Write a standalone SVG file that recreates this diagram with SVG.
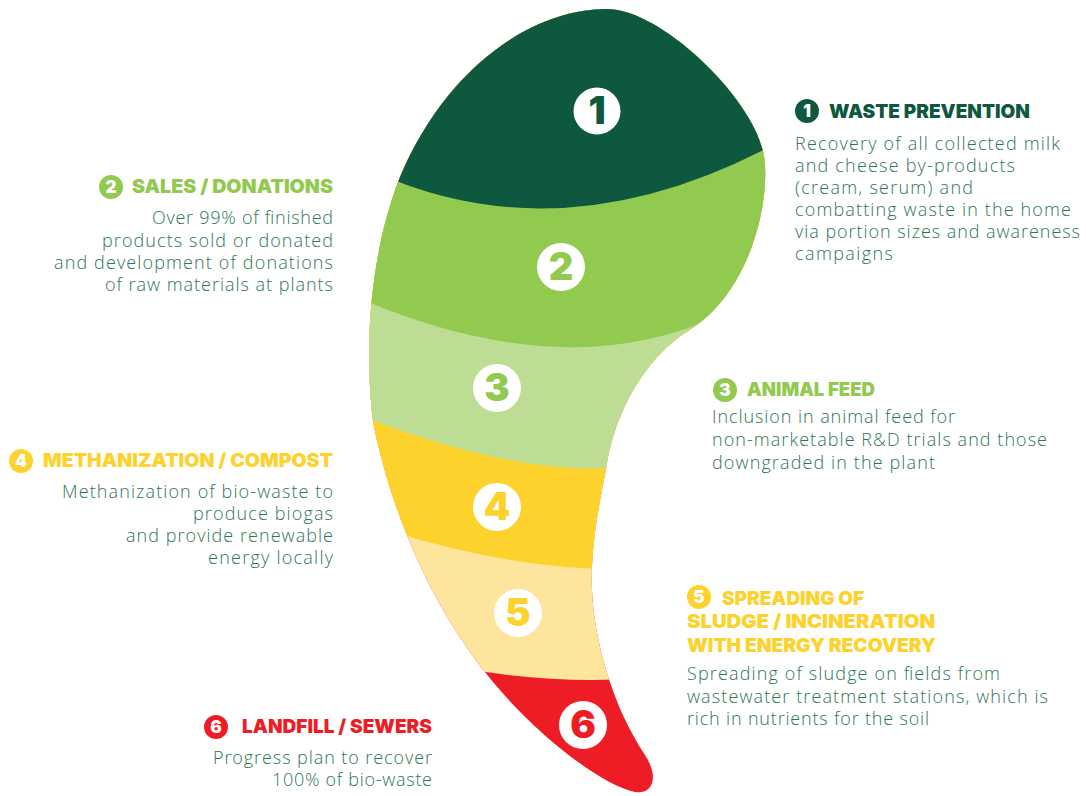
<svg xmlns="http://www.w3.org/2000/svg" width="1086" height="796" viewBox="0 0 1086 796">
<defs>
<clipPath id="shape">
<path d="M 607 9 C 660 9, 750 95, 763 151 C 772 190, 755 290, 688 331 C 643 359, 615 415, 607 463 C 602 493, 590 540, 592 590 C 594 640, 612 705, 645 755 C 660 778, 652 795, 635 792 C 600 785, 530 730, 485 672 C 440 615, 395 530, 373 422 C 362 330, 375 240, 400 177 C 445 70, 530 9, 607 9 Z"/>
</clipPath>
<style>
.body{font-family:"Open Sans","Liberation Sans",sans-serif;font-size:18px;font-weight:300;fill:#2f7556;}
.head{font-family:Inter,Lato,"Liberation Sans",sans-serif;font-size:19px;font-weight:900;}
.bignum{font-family:Inter,Lato,"Liberation Sans",sans-serif;font-size:38px;font-weight:900;text-anchor:middle;}
.smallnum{font-family:Inter,Lato,"Liberation Sans",sans-serif;font-size:17px;font-weight:900;text-anchor:middle;fill:#fff;}
.c1{fill:#0f5840}.c2{fill:#92c94f}.c3{fill:#bddc94}.c4{fill:#fed22c}.c5{fill:#fde59e}.c6{fill:#ee1d25}
</style>
</defs>
<rect width="1086" height="796" fill="#fff"/>
<g id="bands" clip-path="url(#shape)">
<rect class="c6" x="300" y="0" width="560" height="796"/>
<path class="c5" d="M 300 -10 L 860 -10 L 860 678 L 640 678 Q 560 685 460 668 L 300 668 Z"/>
<path class="c4" d="M 300 -10 L 860 -10 L 860 568 L 640 568 Q 530 575 380 528 L 300 528 Z"/>
<path class="c3" d="M 300 -10 L 860 -10 L 860 462 L 650 462 Q 540 488 340 408 L 300 408 Z"/>
<path class="c2" d="M 300 -10 L 860 -10 L 860 315 L 720 315 Q 560 390 340 290 L 300 290 Z"/>
<path class="c1" d="M 300 -10 L 860 -10 L 860 130 L 800 130 Q 560 270 350 160 L 300 160 Z"/>
</g>
<g id="node1">
<circle cx="597" cy="111" r="23.5" fill="#fff"/>
<text class="bignum c1" x="597" y="124">1</text>
<circle class="c1" cx="807" cy="111" r="12"/>
<text class="smallnum" x="807" y="117">1</text>
<text class="head c1" x="829" y="118" textLength="201" lengthAdjust="spacingAndGlyphs">WASTE PREVENTION</text>
<text class="body" x="795" y="150" textLength="265">Recovery of all collected milk</text>
<text class="body" x="795" y="172" textLength="220">and cheese by-products</text>
<text class="body" x="795" y="194" textLength="178">(cream, serum) and</text>
<text class="body" x="795" y="216" textLength="276">combatting waste in the home</text>
<text class="body" x="795" y="238" textLength="285">via portion sizes and awareness</text>
<text class="body" x="795" y="260" textLength="98">campaigns</text>
</g>
<g id="node2">
<circle cx="561" cy="267" r="24" fill="#fff"/>
<text class="bignum c2" x="561" y="280">2</text>
<circle class="c2" cx="111" cy="187" r="12"/>
<text class="smallnum" x="111" y="193">2</text>
<text class="head c2" x="132" y="193" textLength="201" lengthAdjust="spacingAndGlyphs">SALES / DONATIONS</text>
<text class="body" x="152" y="224" textLength="181">Over 99% of finished</text>
<text class="body" x="102" y="247" textLength="231">products sold or donated</text>
<text class="body" x="54" y="269" textLength="279">and development of donations</text>
<text class="body" x="105" y="291" textLength="228">of raw materials at plants</text>
</g>
<g id="node3">
<circle cx="497" cy="388" r="24" fill="#fff"/>
<text class="bignum c2" x="497" y="401">3</text>
<circle class="c2" cx="725" cy="390" r="12"/>
<text class="smallnum" x="725" y="396">3</text>
<text class="head c2" x="747" y="396" textLength="128" lengthAdjust="spacingAndGlyphs">ANIMAL FEED</text>
<text class="body" x="712" y="423" textLength="243">Inclusion in animal feed for</text>
<text class="body" x="712" y="446" textLength="335">non-marketable R&amp;D trials and those</text>
<text class="body" x="712" y="469" textLength="223">downgraded in the plant</text>
</g>
<g id="node4">
<circle cx="497" cy="507" r="24" fill="#fff"/>
<text class="bignum c4" x="497" y="520">4</text>
<circle class="c4" cx="21" cy="461" r="12"/>
<text class="smallnum" x="21" y="467">4</text>
<text class="head c4" x="43" y="467" textLength="290" lengthAdjust="spacingAndGlyphs">METHANIZATION / COMPOST</text>
<text class="body" x="62" y="498" textLength="271">Methanization of bio-waste to</text>
<text class="body" x="193" y="520" textLength="140">produce biogas</text>
<text class="body" x="126" y="542" textLength="207">and provide renewable</text>
<text class="body" x="208" y="564" textLength="125">energy locally</text>
</g>
<g id="node5">
<circle cx="518" cy="613" r="24" fill="#fff"/>
<text class="bignum c4" x="518" y="626">5</text>
<circle class="c4" cx="699" cy="597" r="12"/>
<text class="smallnum" x="699" y="603">5</text>
<text class="head c4" x="722" y="605" textLength="142" lengthAdjust="spacingAndGlyphs">SPREADING OF</text>
<text class="head c4" x="687" y="628" textLength="248" lengthAdjust="spacingAndGlyphs">SLUDGE / INCINERATION</text>
<text class="head c4" x="687" y="652" textLength="249" lengthAdjust="spacingAndGlyphs">WITH ENERGY RECOVERY</text>
<text class="body" x="687" y="680" textLength="313">Spreading of sludge on fields from</text>
<text class="body" x="687" y="703" textLength="361">wastewater treatment stations, which is</text>
<text class="body" x="687" y="725" textLength="242">rich in nutrients for the soil</text>
</g>
<g id="node6">
<circle cx="583" cy="725" r="24" fill="#fff"/>
<text class="bignum c6" x="583" y="738">6</text>
<circle class="c6" cx="216" cy="727" r="12"/>
<text class="smallnum" x="216" y="733">6</text>
<text class="head c6" x="242" y="733" textLength="190" lengthAdjust="spacingAndGlyphs">LANDFILL / SEWERS</text>
<text class="body" x="213" y="764" textLength="219">Progress plan to recover</text>
<text class="body" x="272" y="786" textLength="160">100% of bio-waste</text>
</g>
</svg>
